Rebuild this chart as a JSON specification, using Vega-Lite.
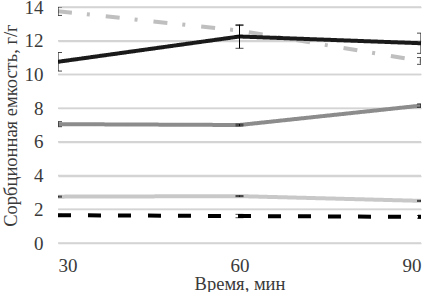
{
  "$schema": "https://vega.github.io/schema/vega-lite/v6.json",
  "width": 363,
  "height": 236,
  "autosize": {"type": "none"},
  "padding": {"left": 58, "top": 7, "right": 9, "bottom": 49},
  "background": "white",
  "config": {
    "view": {"stroke": null},
    "font": "Liberation Serif",
    "axis": {"labelFont": "Liberation Serif", "titleFont": "Liberation Serif", "labelFontSize": 19, "titleFontSize": 18.5, "labelColor": "#3a3a3a", "titleColor": "#3a3a3a", "titleFontWeight": "normal", "tickSize": 0, "tickOpacity": 0, "domain": false, "labelOverlap": false},
    "axisY": {"grid": true, "gridColor": "#d4d4d4", "gridWidth": 1.5, "gridOpacity": 1},
    "axisX": {"grid": false}
  },
  "datasets": {
    "grid": [{"g": 0}, {"g": 2}, {"g": 4}, {"g": 6}, {"g": 8}, {"g": 10}, {"g": 12}, {"g": 14}]
  },
  "data": {
    "values": [
      {"s": "A", "t": 30, "v": 13.75, "e": 0.25},
      {"s": "A", "t": 60, "v": 12.6, "e": 0.3},
      {"s": "A", "t": 90, "v": 10.8, "e": 0.2},
      {"s": "B", "t": 30, "v": 10.75, "e": 0.55},
      {"s": "B", "t": 60, "v": 12.25, "e": 0.7},
      {"s": "B", "t": 90, "v": 11.85, "e": 0.6},
      {"s": "C", "t": 30, "v": 7.05, "e": 0.15},
      {"s": "C", "t": 60, "v": 7.0, "e": 0.05},
      {"s": "C", "t": 90, "v": 8.15, "e": 0.1},
      {"s": "D", "t": 30, "v": 2.75, "e": 0.03},
      {"s": "D", "t": 60, "v": 2.78, "e": 0.03},
      {"s": "D", "t": 90, "v": 2.5, "e": 0.03},
      {"s": "E", "t": 30, "v": 1.65, "e": 0.05},
      {"s": "E", "t": 60, "v": 1.6, "e": 0.1},
      {"s": "E", "t": 90, "v": 1.55, "e": 0.08}
    ]
  },
  "transform": [{"calculate": "datum.v - datum.e", "as": "lo"}, {"calculate": "datum.v + datum.e", "as": "hi"}],
  "layer": [
    {
      "data": {"name": "grid"},
      "mark": {"type": "rule", "color": "#d4d4d4", "strokeWidth": 1.5},
      "encoding": {
        "y": {"field": "g", "type": "quantitative", "scale": {"domain": [0, 14], "nice": false}, "axis": {"values": [0, 2, 4, 6, 8, 10, 12, 14], "labelOverlap": false, "grid": true, "title": "Сорбционная емкость, г/г", "labelPadding": 15, "titlePadding": 4}}
      }
    },
    {
      "mark": {"type": "line", "clip": true, "strokeCap": "butt"},
      "encoding": {
        "x": {"field": "t", "type": "quantitative", "scale": {"domain": [30, 90], "nice": false}, "axis": {"values": [30, 60, 90], "grid": false, "title": "Время, мин", "labelPadding": 13, "titlePadding": -1}},
        "y": {"field": "v", "type": "quantitative", "axis": {"values": [0, 2, 4, 6, 8, 10, 12, 14], "labelOverlap": false, "grid": true, "title": "Сорбционная емкость, г/г", "labelPadding": 15, "titlePadding": 4}},
        "color": {"field": "s", "type": "nominal", "scale": {"domain": ["A", "B", "C", "D", "E"], "range": ["#bfbfbf", "#1a1a1a", "#8c8c8c", "#c8c8c8", "#000000"]}, "legend": null},
        "strokeDash": {"field": "s", "type": "nominal", "scale": {"domain": ["A", "B", "C", "D", "E"], "range": [[14, 15, 3, 16], [1, 0], [1, 0], [1, 0], [13, 17]]}, "legend": null},
        "strokeWidth": {"field": "s", "type": "nominal", "scale": {"domain": ["A", "B", "C", "D", "E"], "range": [4, 4, 4, 3.5, 4]}, "legend": null},
        "order": {"field": "s", "sort": "ascending"}
      }
    },
    {
      "mark": {"type": "rule", "clip": true, "color": "#000000", "strokeWidth": 1},
      "encoding": {
        "x": {"field": "t", "type": "quantitative", "axis": {"values": [30, 60, 90], "grid": false, "title": "Время, мин", "labelPadding": 13, "titlePadding": -1}},
        "y": {"field": "lo", "type": "quantitative", "axis": {"values": [0, 2, 4, 6, 8, 10, 12, 14], "labelOverlap": false, "grid": true, "title": "Сорбционная емкость, г/г", "labelPadding": 15, "titlePadding": 4}}, "y2": {"field": "hi"}}
    },
    {
      "mark": {"type": "tick", "clip": true, "color": "#000000", "thickness": 1, "size": 8, "orient": "horizontal"},
      "encoding": {
        "x": {"field": "t", "type": "quantitative", "axis": {"values": [30, 60, 90], "grid": false, "title": "Время, мин", "labelPadding": 13, "titlePadding": -1}},
        "y": {"field": "lo", "type": "quantitative", "axis": {"values": [0, 2, 4, 6, 8, 10, 12, 14], "labelOverlap": false, "grid": true, "title": "Сорбционная емкость, г/г", "labelPadding": 15, "titlePadding": 4}}}
    },
    {
      "mark": {"type": "tick", "clip": true, "color": "#000000", "thickness": 1, "size": 8, "orient": "horizontal"},
      "encoding": {
        "x": {"field": "t", "type": "quantitative", "axis": {"values": [30, 60, 90], "grid": false, "title": "Время, мин", "labelPadding": 13, "titlePadding": -1}},
        "y": {"field": "hi", "type": "quantitative", "axis": {"values": [0, 2, 4, 6, 8, 10, 12, 14], "labelOverlap": false, "grid": true, "title": "Сорбционная емкость, г/г", "labelPadding": 15, "titlePadding": 4}}}
    }
  ]
}
